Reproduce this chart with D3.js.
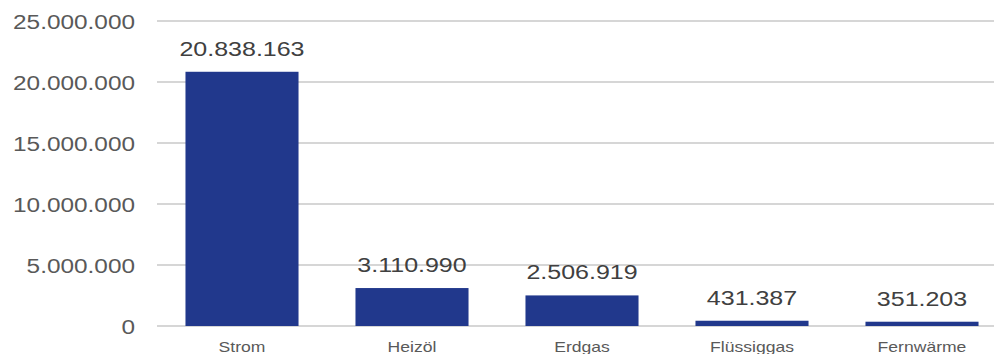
<!DOCTYPE html>
<html><head><meta charset="utf-8">
<script src="https://cdn.jsdelivr.net/npm/d3@7"></script>
<style>body{margin:0;background:#fff;} svg{display:block;}</style>
</head><body>
<svg id="c" width="994" height="354"></svg>
<script>
const categories = ["Strom","Heizöl","Erdgas","Flüssiggas","Fernwärme"];
const values = [20838163, 3110990, 2506919, 431387, 351203];
const yTicks = [0, 5000000, 10000000, 15000000, 20000000, 25000000];

const svg = d3.select("#c");
const fmt = v => d3.format(",")(v).replace(/,/g, ".");
const SX = 1.25;

const x = d3.scaleBand().domain(categories).range([157, 1007]).paddingInner(0.335).paddingOuter(0.1675);
const y = d3.scaleLinear().domain([0, 25000000]).range([326, 21]);

// gridlines
svg.append("g").selectAll("line").data(yTicks).join("line")
  .attr("x1", 157).attr("x2", 994)
  .attr("y1", d => y(d)).attr("y2", d => y(d))
  .attr("stroke", "#d6d6d6").attr("stroke-width", 2);

// y tick labels
svg.append("g").selectAll("text").data(yTicks).join("text")
  .attr("transform", d => `translate(135,${y(d) + 7.5}) scale(${SX},1)`)
  .attr("text-anchor", "end")
  .attr("font-family", "Liberation Sans, Arial, sans-serif")
  .attr("font-size", 19.5).attr("fill", "#595959")
  .text(d => fmt(d));

// bars
svg.append("g").selectAll("rect").data(values).join("rect")
  .attr("x", (d, i) => x(categories[i]))
  .attr("width", x.bandwidth())
  .attr("y", d => y(d))
  .attr("height", d => y(0) - y(d))
  .attr("fill", "#21388c");

// value labels
svg.append("g").selectAll("text").data(values).join("text")
  .attr("transform", (d, i) => `translate(${x(categories[i]) + x.bandwidth() / 2},${y(d) - 16}) scale(${SX},1)`)
  .attr("text-anchor", "middle")
  .attr("font-family", "Liberation Sans, Arial, sans-serif")
  .attr("font-size", 20).attr("fill", "#404040")
  .text(d => fmt(d));

// category labels
svg.append("g").selectAll("text").data(categories).join("text")
  .attr("transform", d => `translate(${x(d) + x.bandwidth() / 2},352) scale(1.22,1)`)
  .attr("text-anchor", "middle")
  .attr("font-family", "Liberation Sans, Arial, sans-serif")
  .attr("font-size", 14.4).attr("fill", "#595959")
  .text(d => d);
</script>
</body></html>
